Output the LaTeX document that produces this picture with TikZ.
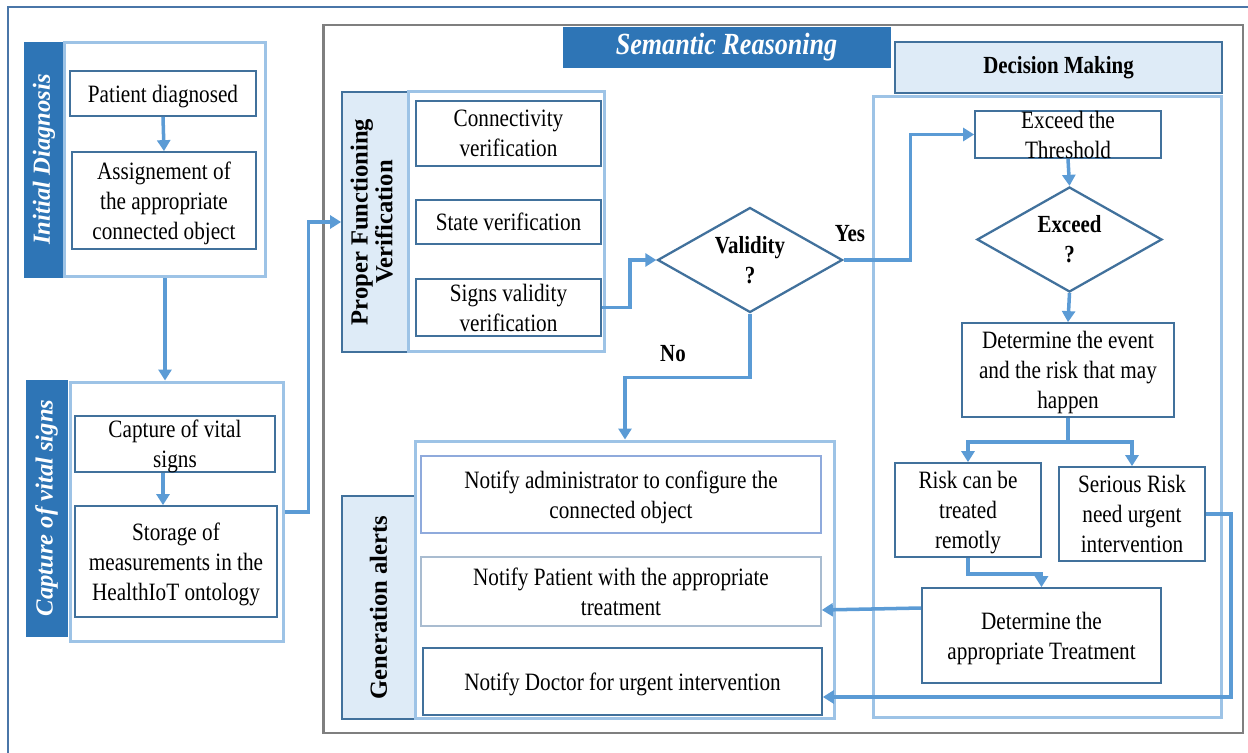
\documentclass[tikz,border=0pt]{standalone}
\usepackage{fontspec}
\setmainfont{Liberation Serif}[FakeStretch=0.85]
\newfontfamily\sidefont{Liberation Serif}
\usepackage{graphicx}
\usepackage{xcolor}
\usetikzlibrary{arrows.meta,shapes.geometric}

\definecolor{cDark}{HTML}{2E75B6}
\definecolor{cBoxline}{HTML}{41719C}
\definecolor{cFrame}{HTML}{9DC3E6}
\definecolor{cBarfill}{HTML}{DEEBF7}
\definecolor{cFlow}{HTML}{5B9BD5}
\definecolor{cMain}{HTML}{7F7F7F}
\definecolor{cOuter}{HTML}{4A76A8}
\definecolor{cAdmin}{HTML}{8FAADC}
\definecolor{cPat}{HTML}{A9BCD0}

\begin{document}
\begin{tikzpicture}[x=0.02cm, y=-0.02cm,
    txt/.style={font=\fontsize{14.2}{17}\selectfont, align=center, text depth=-1.5pt},
    box/.style={txt, draw=cBoxline, line width=1pt, fill=white, inner sep=0pt},
    frame/.style={draw=cFrame, line width=1.7pt, inner sep=0pt},
    darkbar/.style={fill=cDark, draw=cDark, inner sep=0pt, text=white,
        font=\sidefont\fontsize{14}{14}\selectfont\bfseries\itshape},
    lightbar/.style={fill=cBarfill, draw=cBoxline, line width=1pt, inner sep=0pt,
        font=\sidefont\fontsize{14}{14}\selectfont\bfseries},
    test/.style={diamond, aspect=1.76, draw=cBoxline, line width=1.3pt, fill=white,
        inner sep=0pt, align=center, font=\fontsize{14}{17}\selectfont\bfseries},
    answer/.style={font=\fontsize{14}{17}\selectfont\bfseries},
    flow/.style={draw=cFlow, line width=2pt, -{Triangle[length=0.22cm,width=0.26cm]}}]

    \useasboundingbox (0,0) rectangle (1248,753);
    \draw[cOuter, line width=0.7pt] (8,770) -- (8,7) -- (1270,7);

    \node[draw=cMain, line width=1.6pt, minimum width=18.4cm, minimum height=14.16cm] (main) at (783,379) {};

    \node[darkbar, minimum width=0.8cm, minimum height=4.7cm] (initbar) at (44,159.5) {\rotatebox{90}{Initial Diagnosis}};
    \node[frame, minimum width=4.04cm, minimum height=4.7cm] (initframe) at (165,159.5) {};
    \node[box, minimum width=3.72cm, minimum height=0.9cm] (patdiag) at (163,93.5) {Patient diagnosed};
    \node[box, minimum width=3.68cm, minimum height=1.94cm] (assign) at (164,200.5) {Assignement of\\the appropriate\\connected object};

    \node[darkbar, minimum width=0.82cm, minimum height=5.12cm] (capbar) at (46.5,508) {\rotatebox{90}{Capture of vital signs}};
    \node[frame, minimum width=4.28cm, minimum height=5.2cm] (capframe) at (177,512) {};
    \node[box, minimum width=4.0cm, minimum height=1.12cm] (capvital) at (175,444) {Capture of vital\\signs};
    \node[box, minimum width=4.04cm, minimum height=2.22cm] (storage) at (176,561.5) {Storage of\\measurements in the\\HealthIoT ontology};

    \node[darkbar, minimum width=6.54cm, minimum height=0.8cm, font=\fontsize{17.5}{20}\selectfont\bfseries\itshape] (semres) at (726.5,47) {Semantic Reasoning};

    \node[lightbar, minimum width=1.32cm, minimum height=5.2cm] (pfbar) at (375,222) {\rotatebox{90}{\begin{tabular}{@{}c@{}}Proper Functioning\\Verification\end{tabular}}};
    \node[frame, minimum width=3.94cm, minimum height=5.22cm] (pfframe) at (506.5,221.5) {};
    \node[box, minimum width=3.7cm, minimum height=1.3cm] (connver) at (508.5,133.5) {Connectivity\\verification};
    \node[box, minimum width=3.7cm, minimum height=0.88cm] (statever) at (508.5,222) {State verification};
    \node[box, minimum width=3.7cm, minimum height=1.14cm] (signsver) at (508.5,307.5) {Signs validity\\verification};
    \node[test, minimum width=3.7cm, minimum height=2.1cm] (valid) at (750,260) {Validity\\?};
    \node[answer] (yes) at (850,234) {Yes};
    \node[answer] (no) at (673,354) {No};

    \node[lightbar, minimum width=6.54cm, minimum height=1.02cm, font=\fontsize{14}{17}\selectfont\bfseries] (decmaking) at (1058.5,67.5) {Decision Making};
    \node[frame, minimum width=6.98cm, minimum height=12.44cm] (decframe) at (1047.5,407) {};
    \node[box, minimum width=3.72cm, minimum height=0.94cm] (exceedthr) at (1068,134.5) {Exceed the\\Threshold};
    \node[test, minimum width=3.7cm, minimum height=2.1cm] (exceed) at (1069.5,239.5) {Exceed\\?};
    \node[box, minimum width=4.24cm, minimum height=1.88cm] (detevent) at (1068,370) {Determine the event\\and the risk that may\\happen};
    \node[box, minimum width=2.92cm, minimum height=1.88cm] (riskrem) at (968,510) {Risk can be\\treated\\remotly};
    \node[box, minimum width=2.92cm, minimum height=1.88cm] (serious) at (1132,514) {Serious Risk\\need urgent\\intervention};
    \node[box, minimum width=4.78cm, minimum height=1.9cm] (dettreat) at (1041.5,635.5) {Determine the\\appropriate Treatment};

    \node[lightbar, minimum width=1.46cm, minimum height=4.46cm] (genbar) at (378.5,607.5) {\rotatebox{90}{Generation alerts}};
    \node[frame, minimum width=8.4cm, minimum height=5.56cm] (genframe) at (625,580) {};
    \node[box, draw=cAdmin, minimum width=8.0cm, minimum height=1.54cm] (notadmin) at (621,494.5) {Notify administrator to configure the\\connected object};
    \node[box, draw=cPat, minimum width=8.0cm, minimum height=1.38cm] (notpat) at (621,591.5) {Notify Patient with the appropriate\\treatment};
    \node[box, minimum width=7.98cm, minimum height=1.34cm] (notdoc) at (622.5,681.5) {Notify Doctor for urgent intervention};

    \draw[flow] (patdiag.south) -- (assign.north);
    \draw[flow] (initframe.south) -- (initframe.south |- capframe.north);
    \draw[flow] (capvital.south -| patdiag.south) -- (storage.north -| patdiag.south);
    \draw[flow] (capframe.east) -- ++(23,0) |- (pfbar.west);
    \draw[flow] (signsver.east) -- ++(28,0) |- (valid.west);
    \draw[flow] (valid.east) -- ++(67,0) |- (exceedthr.west);
    \draw[flow] (valid.south) -- ++(0,64) -| (genframe.north);

    \draw[flow] (exceedthr.south) -- (exceed.north);
    \draw[flow] (exceed.south) -- (detevent.north);
    \draw[flow] (detevent.south) -- ++(0,24) -| (riskrem.north);
    \draw[flow] (detevent.south) -- ++(0,24) -| (serious.north);
    \draw[flow] (riskrem.south) -- ++(0,16) -| (dettreat.north);
    \draw[flow] ([yshift=0.55cm]dettreat.west) -- ([yshift=-0.37cm]notpat.east);
    \draw[flow] (serious.east) -- ++(25,0) |- ([yshift=-0.31cm]notdoc.east);
\end{tikzpicture}
\end{document}
